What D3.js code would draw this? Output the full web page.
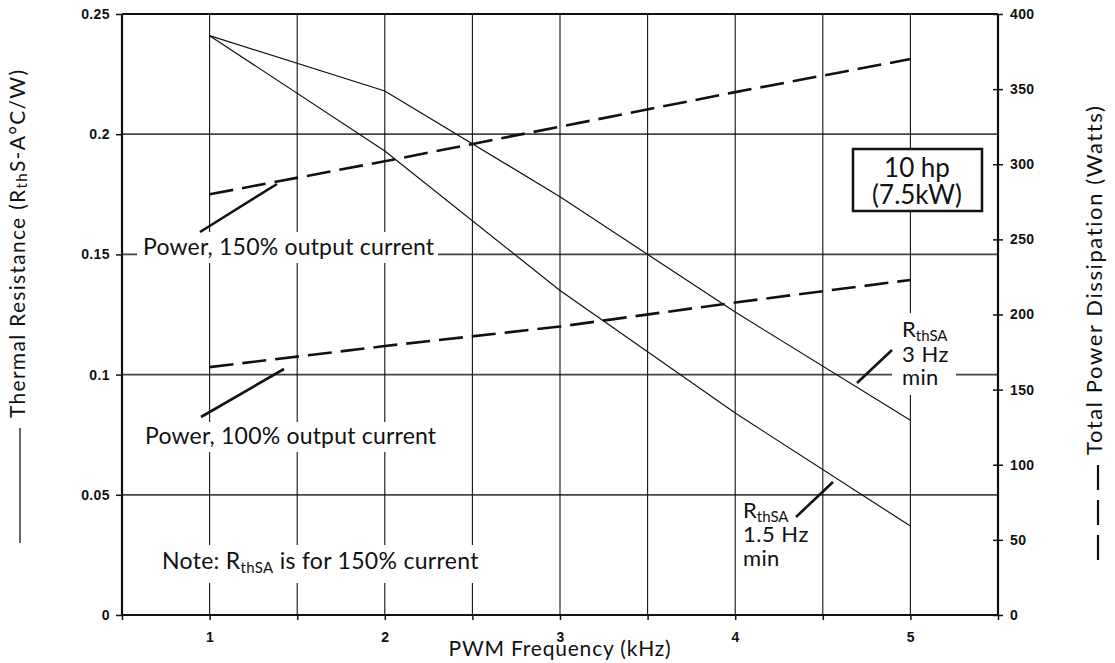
<!DOCTYPE html>
<html>
<head>
<meta charset="utf-8">
<script src="https://cdn.jsdelivr.net/npm/d3@7/dist/d3.min.js"></script>
<style>
  html, body { margin: 0; padding: 0; background: #fff; }
  svg { display: block; }
  .ann { font-family: Lato, "Open Sans", sans-serif; fill: #111; }
  .tick text { font-family: "Liberation Sans", Arial, sans-serif; font-weight: bold; font-size: 14px; letter-spacing: 0.4px; fill: #111; }
</style>
</head>
<body>
<svg id="chart" width="1115" height="663"></svg>
<script>
// ---- data ----
const freqKHz = [1, 2, 3, 4, 5];
const rthSA3Hz = [0.241, 0.218, 0.174, 0.126, 0.081];
const rthSA15Hz = [0.241, 0.193, 0.135, 0.084, 0.037];
const power150 = [280, 302, 325, 348, 370];
const power100 = [165, 179, 192, 208, 223];
const xTickValues = [0.5, 1, 1.5, 2, 2.5, 3, 3.5, 4, 4.5, 5, 5.5];
const xTickLabels = ["", "1", "", "2", "", "3", "", "4", "", "5", ""];
const leftTickValues = [0, 0.05, 0.1, 0.15, 0.2, 0.25];
const leftTickLabels = ["0", "0.05", "0.1", "0.15", "0.2", "0.25"];
const rightTickValues = [0, 50, 100, 150, 200, 250, 300, 350, 400];
const rightTickLabels = ["0", "50", "100", "150", "200", "250", "300", "350", "400"];

const svg = d3.select("#chart");
const L = 122, R = 998, T = 14, B = 615;
const x = d3.scaleLinear().domain([0.5, 5.5]).range([L, R]);
const yL = d3.scaleLinear().domain([0, 0.25]).range([B, T]);
const yR = d3.scaleLinear().domain([0, 400]).range([B, T]);

// gridlines
const grid = svg.append("g");
grid.selectAll("line.h").data(leftTickValues.filter(v => v > 0 && v < 0.25)).join("line")
  .attr("x1", L).attr("x2", R).attr("y1", d => yL(d)).attr("y2", d => yL(d))
  .attr("stroke", "#444").attr("stroke-width", 1.7);
grid.selectAll("line.v").data(xTickValues.filter(v => v > 0.5 && v < 5.5)).join("line")
  .attr("x1", d => x(d)).attr("x2", d => x(d)).attr("y1", T).attr("y2", B)
  .attr("stroke", "#111").attr("stroke-width", 1.1);

// axes
const xAxis = svg.append("g").attr("transform", `translate(0,${B})`)
  .call(d3.axisBottom(x).tickValues(xTickValues).tickSize(5).tickPadding(12)
    .tickFormat((d, i) => xTickLabels[i]));
const yAxisL = svg.append("g").attr("transform", `translate(${L},0)`)
  .call(d3.axisLeft(yL).tickValues(leftTickValues).tickSize(6).tickPadding(6)
    .tickFormat((d, i) => leftTickLabels[i]));
const yAxisR = svg.append("g").attr("transform", `translate(${R},0)`)
  .call(d3.axisRight(yR).tickValues(rightTickValues).tickSize(5).tickPadding(7)
    .tickFormat((d, i) => rightTickLabels[i]));
yAxisR.selectAll(".tick line").attr("x1", -5);
[xAxis, yAxisL, yAxisR].forEach(g => {
  g.select(".domain").remove();
  g.selectAll(".tick line").attr("stroke", "#111").attr("stroke-width", 1.5);
});
// frame
svg.append("line").attr("x1", L).attr("x2", R).attr("y1", B).attr("y2", B).attr("stroke", "#111").attr("stroke-width", 2.2);
svg.append("line").attr("x1", L).attr("x2", R).attr("y1", T).attr("y2", T).attr("stroke", "#111").attr("stroke-width", 1.8);
svg.append("line").attr("x1", L).attr("x2", L).attr("y1", T).attr("y2", B).attr("stroke", "#111").attr("stroke-width", 2.2);
svg.append("line").attr("x1", R).attr("x2", R).attr("y1", T).attr("y2", B).attr("stroke", "#111").attr("stroke-width", 2.2);

// series
const lineL = d3.line().x((d, i) => x(freqKHz[i])).y(d => yL(d));
const lineR = d3.line().x((d, i) => x(freqKHz[i])).y(d => yR(d));
[rthSA3Hz, rthSA15Hz].forEach(s => svg.append("path").attr("d", lineL(s))
  .attr("fill", "none").attr("stroke", "#111").attr("stroke-width", 1.2));
[power150, power100].forEach(s => svg.append("path").attr("d", lineR(s))
  .attr("fill", "none").attr("stroke", "#111").attr("stroke-width", 2.6)
  .attr("stroke-dasharray", "24,9"));

// annotations
function bg(x0, y0, x1, y1) {
  svg.append("rect").attr("x", x0).attr("y", y0).attr("width", x1 - x0).attr("height", y1 - y0).attr("fill", "#fff");
}
function leader(x0, y0, x1, y1) {
  svg.append("line").attr("x1", x0).attr("y1", y0).attr("x2", x1).attr("y2", y1)
    .attr("stroke", "#111").attr("stroke-width", 2.6);
}
function txt(parts, xx, yy, size, anchor, ls) {
  const t = svg.append("text").attr("class", "ann").attr("x", xx).attr("y", yy)
    .attr("font-size", size).attr("text-anchor", anchor || "start")
    .attr("letter-spacing", ls || 0);
  parts.forEach(p => {
    if (typeof p === "string") t.append("tspan").text(p);
    else t.append("tspan").attr("font-size", p.size).attr("dy", p.dy).text(p.t);
  });
  return t;
}

bg(137, 232, 438, 263);
txt(["Power, 150% output current"], 143, 255, 23, "start", 0.2);
leader(200, 232, 277, 184);

bg(140, 422, 440, 452);
txt(["Power, 100% output current"], 145, 444, 23, "start", 0.2);
leader(201, 417, 284, 369);

bg(155, 545, 485, 583);
txt(["Note: R", {t: "thSA", size: 15, dy: 4}, {t: " is for 150% current", size: 23, dy: -4}], 162, 569, 23, "start", 0.3);

svg.append("rect").attr("x", 853).attr("y", 149).attr("width", 129).attr("height", 62)
  .attr("fill", "#fff").attr("stroke", "#111").attr("stroke-width", 2.5);
txt(["10 hp"], 917, 177, 26, "middle");
txt(["(7.5kW)"], 917, 204, 26, "middle");

bg(892, 313, 956, 395);
txt(["R", {t: "thSA", size: 15, dy: 4}], 902, 337, 22);
txt(["3 Hz"], 902, 362, 22, "start", 0.5);
txt(["min"], 902, 385, 22, "start", 0.3);
leader(857, 383, 892, 350);

txt(["R", {t: "thSA", size: 15, dy: 4}], 743, 518, 22);
txt(["1.5 Hz"], 743, 542, 22, "start", 0.5);
txt(["min"], 743, 566, 22, "start", 0.3);
leader(796, 517, 833, 482);

// axis titles
txt(["PWM Frequency (kHz)"], 560, 656, 21, "middle", 0.8);

svg.append("line").attr("x1", 20).attr("x2", 20).attr("y1", 428).attr("y2", 543)
  .attr("stroke", "#333").attr("stroke-width", 1.5);
svg.append("text").attr("class", "ann").attr("font-size", 21).attr("letter-spacing", 1.3)
  .attr("transform", "translate(25,418) rotate(-90)")
  .call(t => {
    t.append("tspan").text("Thermal Resistance (R");
    t.append("tspan").attr("font-size", 15).attr("dy", 2).text("th");
    t.append("tspan").attr("dy", -2).text("S-A°C/W)");
  });

svg.append("line").attr("x1", 1098).attr("x2", 1098).attr("y1", 465).attr("y2", 563)
  .attr("stroke", "#111").attr("stroke-width", 2.2).attr("stroke-dasharray", "25,10");
svg.append("text").attr("class", "ann").attr("font-size", 22).attr("letter-spacing", 1.6)
  .attr("transform", "translate(1102,455) rotate(-90)")
  .text("Total Power Dissipation (Watts)");
</script>
</body>
</html>
